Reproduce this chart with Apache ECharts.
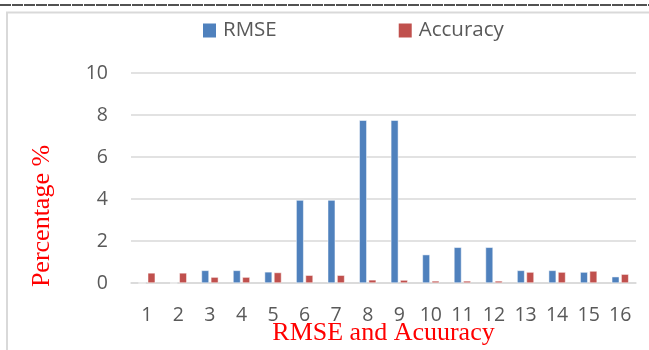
<!DOCTYPE html>
<html>
<head>
<meta charset="utf-8">
<script src="https://cdn.jsdelivr.net/npm/echarts@6/dist/echarts.min.js"></script>
<style>
  html, body { margin: 0; padding: 0; background: #fff; overflow: hidden; }
  #chart { width: 649px; height: 350px; }
</style>
</head>
<body>
<div id="chart"></div>
<script>
// Run labels along the x axis
const categories = ['1', '2', '3', '4', '5', '6', '7', '8', '9', '10', '11', '12', '13', '14', '15', '16'];
// RMSE per run (%)
const rmseValues = [0, 0, 0.6, 0.6, 0.53, 3.95, 3.95, 7.75, 7.75, 1.35, 1.7, 1.7, 0.6, 0.6, 0.52, 0.3];
// Accuracy per run (%)
const accuracyValues = [0.48, 0.48, 0.28, 0.28, 0.5, 0.37, 0.37, 0.15, 0.14, 0.1, 0.1, 0.1, 0.52, 0.52, 0.57, 0.42];
// Value axis range
const yMin = 0, yMax = 10, yStep = 2;
// Axis titles
const xTitle = 'RMSE and Acuuracy';
const yTitle = 'Percentage %';

const chart = echarts.init(document.getElementById('chart'), null, {
  renderer: 'canvas', width: 649, height: 350
});

const sansFont = '"Open Sans", "Noto Sans", sans-serif';
const serifFont = '"Liberation Serif", "DejaVu Serif", serif';
const textGray = '#595959';
const gridGray = '#d9d9d9';

chart.setOption({
  animation: false,
  backgroundColor: '#ffffff',
  graphic: [
    // dark rule across the top of the page
    {
      type: 'line', silent: true,
      shape: { x1: 0, y1: 5, x2: 649, y2: 5 },
      style: { stroke: '#1a1a1a', lineWidth: 1.5, lineDash: [11, 1] }
    },
    // outer chart frame
    {
      type: 'polyline', silent: true,
      shape: { points: [[7, 352], [7, 12.5], [652, 12.5]] },
      style: { stroke: gridGray, lineWidth: 2, fill: null }
    },
    // vertical axis title
    {
      type: 'text', silent: true,
      x: 42, y: 216, rotation: Math.PI / 2,
      style: {
        text: yTitle,
        font: '26px ' + serifFont,
        fill: '#ff0000',
        align: 'center',
        verticalAlign: 'middle'
      }
    },
    // horizontal axis title
    {
      type: 'text', silent: true,
      x: 383.5, y: 333,
      style: {
        text: xTitle,
        font: '26px ' + serifFont,
        fill: '#ff0000',
        align: 'center',
        verticalAlign: 'middle'
      }
    }
  ],
  legend: {
    data: ['RMSE', 'Accuracy'],
    left: 203,
    top: 20,
    padding: 0,
    itemWidth: 13,
    itemHeight: 14,
    itemGap: 122,
    icon: 'rect',
    itemStyle: { borderWidth: 0 },
    textStyle: {
      fontFamily: sansFont,
      fontSize: 20.5,
      lineHeight: 21,
      color: textGray,
      padding: [0, 0, 0, 2]
    }
  },
  grid: {
    left: 131, right: 13, top: 73, bottom: 67,
    containLabel: false,
    outerBoundsMode: 'none'
  },
  xAxis: {
    type: 'category',
    data: categories,
    axisLine: { show: true, lineStyle: { color: gridGray, width: 1.5 } },
    axisTick: { show: false },
    axisLabel: { fontFamily: sansFont, fontSize: 19.5, color: textGray, margin: 22 }
  },
  yAxis: {
    type: 'value',
    min: yMin,
    max: yMax,
    interval: yStep,
    axisLine: { show: false },
    axisTick: { show: false },
    axisLabel: { fontFamily: sansFont, fontSize: 19.5, color: textGray, margin: 23 },
    splitLine: { lineStyle: { color: gridGray, width: 1.5 } }
  },
  series: [
    {
      name: 'RMSE',
      type: 'bar',
      data: rmseValues,
      barWidth: 7.5,
      barGap: '25%',
      itemStyle: { color: '#4f81bd', borderColor: '#ffffff', borderWidth: 0.5 }
    },
    {
      name: 'Accuracy',
      type: 'bar',
      data: accuracyValues,
      barWidth: 7.5,
      barGap: '25%',
      itemStyle: { color: '#c0504d', borderColor: '#ffffff', borderWidth: 0.5 }
    }
  ]
});
</script>
</body>
</html>
